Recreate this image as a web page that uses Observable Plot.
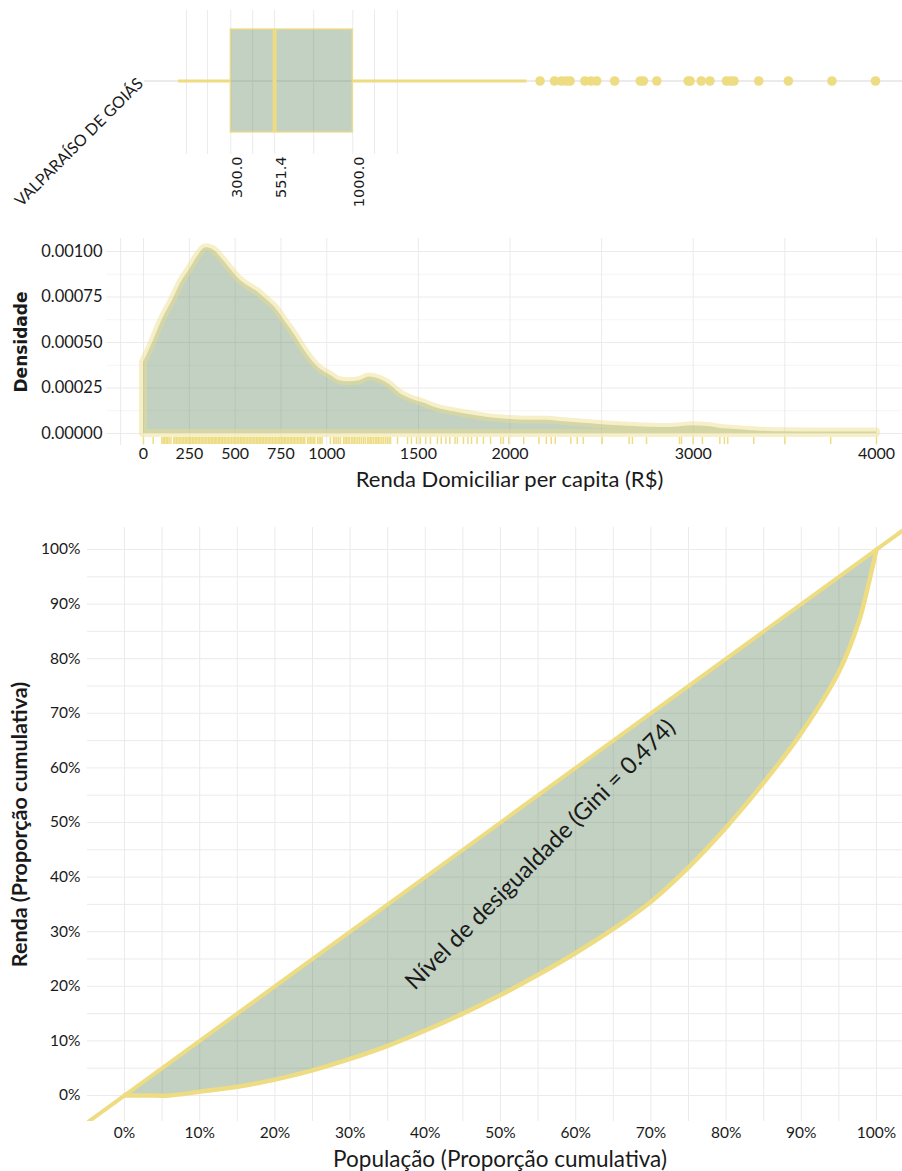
<!DOCTYPE html>
<html>
<head>
<meta charset="utf-8">
<script src="https://cdn.jsdelivr.net/npm/d3@7"></script>
<script src="https://cdn.jsdelivr.net/npm/@observablehq/plot@0.6"></script>
<style>
  html, body { margin: 0; padding: 0; background: #fff; }
  #wrap { position: relative; width: 902px; height: 1171px; overflow: hidden; }
  #wrap svg { position: absolute; left: 0; }
</style>
</head>
<body>
<div id="wrap"></div>
<script>
// ---------------- DATA ----------------
const city = "VALPARAÍSO DE GOIÁS";
const boxQuartiles = [300, 551.4, 1000];      // Q1, median, Q3
const boxWhiskers = [0, 2000];                // lower, upper whisker
const outliers = [2075, 2158, 2198, 2225, 2247, 2332, 2367, 2400, 2503, 2650, 2668, 2745,
  2925, 2936, 3000, 3050, 3145, 3170, 3188, 3330, 3500, 3750, 4000];
const boxGrid = [46, 166, 300, 425.7, 551.4, 775.7, 1000, 1125, 1256];

const densityX = [0, 50, 100, 163, 200, 257, 300, 340, 380, 420, 477, 520, 571, 620, 666, 720,
  770, 820, 870, 920, 970, 1020, 1070, 1120, 1180, 1230, 1294, 1340, 1400, 1460, 1520, 1600,
  1700, 1800, 1890, 2000, 2100, 2204, 2300, 2400, 2487, 2600, 2700, 2833, 2920, 2990, 3080,
  3147, 3230, 3304, 3400, 3493, 3700, 4000];
const densityY = [0.00039, 0.00050, 0.00062, 0.00074, 0.00082, 0.00091, 0.00098, 0.00102,
  0.00101, 0.00097, 0.00090, 0.00085, 0.00081, 0.00078, 0.00074, 0.00069, 0.00062, 0.00055,
  0.00047, 0.00040, 0.00035, 0.00032, 0.00029, 0.000285, 0.00029, 0.00031, 0.000295,
  0.00027, 0.00022, 0.00019, 0.00017, 0.00014, 0.000118, 0.0001, 0.000086, 0.000077,
  0.000073, 0.000073, 0.000064, 0.000056, 0.00005, 0.000043, 0.000037, 0.000033, 0.000036,
  0.000042, 0.000038, 0.000028, 0.000022, 0.000016, 0.000011, 0.000009, 0.000008, 0.000008];
const rugValues = [0, 53, 100, 108, 116, 124, 132, 140, 150, 165, 172, 180, 188, 196, 204, 212,
  220, 228, 236, 244, 250, 258, 266, 274, 282, 290, 298, 306, 314, 322, 330, 338, 346, 354,
  362, 370, 378, 386, 394, 400, 408, 416, 424, 432, 440, 448, 456, 464, 472, 480, 488, 496,
  504, 512, 520, 528, 536, 544, 552, 560, 568, 576, 584, 592, 600, 608, 616, 624, 632, 640,
  648, 656, 664, 672, 680, 688, 696, 704, 712, 720, 728, 736, 744, 752, 760, 768, 776, 784,
  792, 800, 808, 816, 824, 832, 840, 848, 856, 864, 872, 880, 895, 903, 911, 919, 927, 935,
  950, 958, 966, 975, 1020, 1037, 1045, 1055, 1065, 1075, 1092, 1100, 1108, 1116, 1124,
  1135, 1143, 1151, 1160, 1170, 1180, 1190, 1200, 1210, 1222, 1230, 1238, 1246, 1255, 1265,
  1273, 1281, 1290, 1300, 1310, 1320, 1330, 1340, 1348, 1386, 1441, 1462, 1490, 1510, 1540,
  1566, 1604, 1625, 1650, 1672, 1700, 1713, 1746, 1770, 1790, 1820, 1855, 1894, 1950, 1964,
  1993];
const densityXTicks = [0, 250, 500, 750, 1000, 1500, 2000, 3000, 4000];
const densityGridX = [-125, 0, 250, 500, 750, 1000, 1500, 2000, 2500, 3000, 3500, 4000];
const densityYTicks = [0, 0.00025, 0.0005, 0.00075, 0.001];
const densityGridYMinor = [0.000125, 0.000375, 0.000625, 0.000875];

const lorenzP = [0, 0.03, 0.06, 0.1, 0.15, 0.2, 0.25, 0.3, 0.35, 0.4, 0.45, 0.5, 0.55, 0.6,
  0.65, 0.7, 0.75, 0.8, 0.85, 0.9, 0.95, 0.977, 0.99, 1.0];
const lorenzL = [0, 0, 0, 0.007, 0.016, 0.029, 0.046, 0.067, 0.091, 0.119, 0.150, 0.184,
  0.221, 0.261, 0.305, 0.355, 0.418, 0.491, 0.573, 0.664, 0.776, 0.870, 0.940, 1.0];
const lorenzTicks = [0, 0.1, 0.2, 0.3, 0.4, 0.5, 0.6, 0.7, 0.8, 0.9, 1.0];
const lorenzGrid = [0, 0.05, 0.1, 0.15, 0.2, 0.25, 0.3, 0.35, 0.4, 0.45, 0.5, 0.55, 0.6, 0.65,
  0.7, 0.75, 0.8, 0.85, 0.9, 0.95, 1.0];
const equalityLine = [-0.1, 1.1];
const giniLabel = "Nível de desigualdade (Gini = 0.474)";

// ---------------- STYLE ----------------
const YELLOW = "#EEDC82";
const GREEN = "#5f875f";
const GREEN_OP = 0.38;
const GRID = "#ebebeb";
const GRID_MINOR = "#f5f5f5";
const FONT = "Lato, 'Open Sans', sans-serif";
const INK = "#1a1a1a";

const wrap = document.getElementById("wrap");
function place(svg, top) { svg.style.top = top + "px"; wrap.appendChild(svg); }

// ---------------- PANEL 1: boxplot ----------------
const p1 = Plot.plot({
  width: 902, height: 220,
  marginLeft: 144, marginRight: 0, marginTop: 10, marginBottom: 66,
  x: {domain: [0, 4000], range: [178, 875]},
  y: {domain: [city], range: [10, 152], padding: 0.155},
  style: {fontFamily: FONT, fontSize: "15px", color: INK, background: "white"},
  marks: [
    Plot.ruleX(boxGrid, {stroke: GRID, strokeWidth: 1}),
    Plot.ruleY([city], {stroke: GRID, strokeWidth: 2}),
    Plot.ruleY([city], {x1: boxWhiskers[0], x2: boxQuartiles[0], stroke: YELLOW, strokeWidth: 3}),
    Plot.ruleY([city], {x1: boxQuartiles[2], x2: boxWhiskers[1], stroke: YELLOW, strokeWidth: 3}),
    Plot.barX([city], {y: d => d, x1: boxQuartiles[0], x2: boxQuartiles[2],
      fill: GREEN, fillOpacity: GREEN_OP, stroke: YELLOW, strokeWidth: 1.3}),
    Plot.tickX([boxQuartiles[1]], {x: d => d, y: () => city, stroke: YELLOW, strokeWidth: 4}),
    Plot.dot(outliers, {x: d => d, y: () => city, r: 4.8, fill: YELLOW, stroke: null}),
    Plot.axisX(boxQuartiles, {tickFormat: d3.format(".1f"), tickRotate: -90, tickSize: 0,
      tickPadding: 2, dx: 7, fontFamily: "DejaVu Sans", fontSize: 14.5, fill: INK, label: null}),
    Plot.axisY({tickSize: 0, tickRotate: -45, tickPadding: 4, fontSize: 16, fill: INK, label: null})
  ]
});
place(p1, 0);

// ---------------- PANEL 2: density ----------------
const densityRows = densityX.map((x, i) => ({x, y: densityY[i]}));
const p2 = Plot.plot({
  width: 902, height: 275,
  marginLeft: 106, marginRight: 0, marginTop: 18, marginBottom: 50,
  x: {domain: [0, 4000], range: [143, 876]},
  y: {domain: [0, 0.001], range: [213, 31]},
  style: {fontFamily: FONT, fontSize: "16px", color: INK, background: "white"},
  marks: [
    Plot.ruleY(densityGridYMinor, {stroke: GRID_MINOR, strokeWidth: 1}),
    Plot.ruleY(densityYTicks, {stroke: GRID, strokeWidth: 1}),
    Plot.ruleX(densityGridX, {stroke: GRID, strokeWidth: 1}),
    Plot.areaY(densityRows, {x: "x", y: "y", curve: "monotone-x",
      fill: GREEN, fillOpacity: GREEN_OP,
      stroke: YELLOW, strokeOpacity: 0.45, strokeWidth: 8, strokeLinejoin: "round"}),
    Plot.ruleX(rugValues.concat(outliers), {insetTop: 199, insetBottom: 1, stroke: YELLOW, strokeWidth: 1.5}),
    Plot.axisX(densityXTicks, {tickSize: 0, tickPadding: 2, tickFormat: d => String(d),
      fontSize: 16, fill: INK, label: null}),
    Plot.axisY(densityYTicks, {tickSize: 0, tickPadding: 4, tickFormat: d3.format(".5f"),
      fontSize: 16.5, fill: INK, label: null}),
    Plot.text(["Densidade"], {frameAnchor: "left", textAnchor: "middle", rotate: -90, dx: -85,
      fontFamily: "DejaVu Sans", fontWeight: "bold", fontSize: 17, fill: INK}),
    Plot.text(["Renda Domiciliar per capita (R$)"], {frameAnchor: "bottom", dy: 41, dx: 5,
      fontSize: 22, fill: INK})
  ]
});
place(p2, 220);

// ---------------- PANEL 3: Lorenz curve ----------------
const lorenzRows = lorenzP.map((p, i) => ({p, L: lorenzL[i]}));
const p3 = Plot.plot({
  width: 902, height: 676,
  marginLeft: 87, marginRight: 0, marginTop: 32, marginBottom: 50,
  x: {domain: [0, 1], range: [124, 876]},
  y: {domain: [0, 1], range: [600, 54]},
  style: {fontFamily: FONT, fontSize: "15px", color: INK, background: "white"},
  marks: [
    Plot.ruleX(lorenzGrid, {stroke: GRID, strokeWidth: 1}),
    Plot.ruleY(lorenzGrid, {stroke: GRID, strokeWidth: 1}),
    Plot.areaY(lorenzRows, {x: "p", y1: "L", y2: "p", curve: "catmull-rom",
      fill: GREEN, fillOpacity: GREEN_OP}),
    Plot.line(equalityLine, {x: d => d, y: d => d, stroke: YELLOW, strokeWidth: 4, clip: true}),
    Plot.line(lorenzRows, {x: "p", y: "L", curve: "catmull-rom", stroke: YELLOW, strokeWidth: 4.5}),
    Plot.text([giniLabel], {x: () => 0.553, y: () => 0.441, rotate: -45, fontSize: 23.5, fill: INK}),
    Plot.axisX(lorenzTicks, {tickSize: 0, tickPadding: 5, tickFormat: d3.format(".0%"),
      fontSize: 15.5, fill: INK, label: null}),
    Plot.axisY(lorenzTicks, {tickSize: 0, tickPadding: 7, tickFormat: d3.format(".0%"),
      fontSize: 15.5, fill: INK, label: null}),
    Plot.text(["População (Proporção cumulativa)"], {frameAnchor: "bottom", dy: 45, dx: 5,
      fontSize: 22.5, fill: INK}),
    Plot.text(["Renda (Proporção cumulativa)"], {frameAnchor: "left", textAnchor: "middle",
      rotate: -90, dx: -67, fontWeight: "bold", fontSize: 21.5, fill: INK})
  ]
});
place(p3, 495);
</script>
</body>
</html>
